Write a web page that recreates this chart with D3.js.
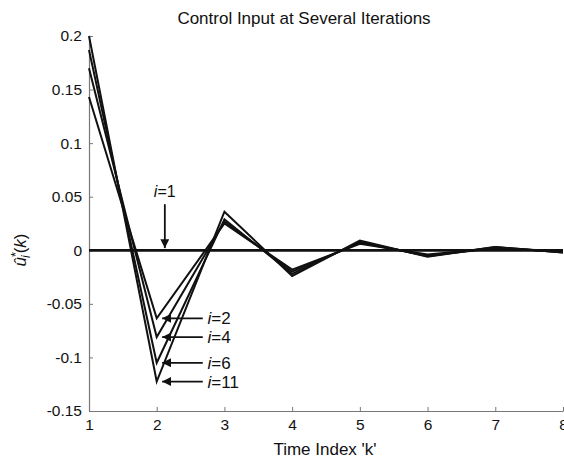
<!DOCTYPE html>
<html>
<head>
<meta charset="utf-8">
<script src="https://cdn.jsdelivr.net/npm/d3@7"></script>
<style>
body { margin: 0; background: #fff; }
svg { font-family: "Liberation Sans", Arial, sans-serif; }
</style>
</head>
<body>
<svg id="chart" width="564" height="460"></svg>
<script>
// time index k
var kValues = [1, 2, 3, 4, 5, 6, 7, 8];

// control input u_i*(k) for several iterations
var iter1  = [0, 0, 0, 0, 0, 0, 0, 0];
var iter2  = [0.143, -0.0635, 0.025, -0.018, 0.006, -0.004, 0.002, -0.001];
var iter4  = [0.170, -0.081, 0.027, -0.020, 0.007, -0.005, 0.002, -0.0015];
var iter6  = [0.187, -0.105, 0.029, -0.022, 0.008, -0.0055, 0.003, -0.002];
var iter11 = [0.200, -0.1225, 0.036, -0.024, 0.009, -0.006, 0.003, -0.002];

var iterNames = ["2", "4", "6", "11"];
var xTicks = [1, 2, 3, 4, 5, 6, 7, 8];
var yTicks = [-0.15, -0.1, -0.05, 0, 0.05, 0.1, 0.15, 0.2];

var svg = d3.select("#chart");

var x = d3.scaleLinear().domain([1, 8]).range([89, 563]);
var y = d3.scaleLinear().domain([-0.15, 0.2]).range([411, 36]);

// axes (ticks point inward)
svg.append("g")
    .attr("transform", "translate(0," + y(-0.15) + ")")
    .call(d3.axisBottom(x).tickValues(xTicks).tickSizeInner(-4).tickSizeOuter(0).tickPadding(8).tickFormat(d3.format("d")));

svg.append("g")
    .attr("transform", "translate(" + x(1) + ",0)")
    .call(d3.axisLeft(y).tickValues(yTicks).tickSizeInner(-4).tickSizeOuter(0).tickPadding(7).tickFormat(function(d){ return String(d); }));

svg.selectAll(".domain").attr("stroke", "#777").attr("stroke-width", 1.2);
svg.selectAll(".tick line").attr("stroke", "#777");
svg.selectAll(".tick text").attr("fill", "#111").style("font-size", "15.5px")
    .style("font-family", "'Liberation Sans', Arial, sans-serif");

// lines
var line = d3.line()
    .x(function(d, i){ return x(kValues[i]); })
    .y(function(d){ return y(d); });

svg.append("path")
    .datum(iter1)
    .attr("d", line)
    .attr("fill", "none")
    .attr("stroke", "#111")
    .attr("stroke-width", 2.8);

var series = [iter2, iter4, iter6, iter11];

svg.selectAll(".iter")
    .data(series)
    .enter()
    .append("path")
    .attr("class", "iter")
    .attr("d", line)
    .attr("fill", "none")
    .attr("stroke", "#111")
    .attr("stroke-width", 2)
    .attr("stroke-linejoin", "miter");

// arrow head marker
svg.append("defs").append("marker")
    .attr("id", "head")
    .attr("viewBox", "0 0 10 10")
    .attr("refX", 10).attr("refY", 5)
    .attr("markerWidth", 5).attr("markerHeight", 5)
    .attr("markerUnits", "strokeWidth")
    .attr("orient", "auto")
    .append("path")
    .attr("d", "M0,0 L10,5 L0,10 Z")
    .attr("fill", "#111");

// i=1 annotation
var ann = svg.append("g");
ann.append("line")
    .attr("x1", x(2.12)).attr("x2", x(2.12))
    .attr("y1", y(0.043)).attr("y2", y(0.002))
    .attr("stroke", "#111").attr("stroke-width", 1.8)
    .attr("marker-end", "url(#head)");

var t1 = ann.append("text")
    .attr("x", x(2.12) - 11).attr("y", y(0.05))
    .style("font-size", "16px").attr("fill", "#111");
t1.append("tspan").style("font-style", "italic").text("i");
t1.append("tspan").text("=1");

// other iteration annotations
series.forEach(function(s, n){
    var yy = y(s[1]);
    ann.append("line")
        .attr("x1", x(2.68)).attr("x2", x(2.08))
        .attr("y1", yy).attr("y2", yy)
        .attr("stroke", "#111").attr("stroke-width", 1.8)
        .attr("marker-end", "url(#head)");
    var t = ann.append("text")
        .attr("x", x(2.75)).attr("y", yy + 6)
        .style("font-size", "17px").attr("fill", "#111");
    t.append("tspan").style("font-style", "italic").text("i");
    t.append("tspan").text("=" + iterNames[n]);
});

// title and axis labels
svg.append("text")
    .attr("x", 304).attr("y", 24)
    .attr("text-anchor", "middle")
    .style("font-size", "17px")
    .attr("fill", "#111")
    .text("Control Input at Several Iterations");

svg.append("text")
    .attr("x", 325).attr("y", 455)
    .attr("text-anchor", "middle")
    .style("font-size", "17px")
    .attr("fill", "#111")
    .text("Time Index 'k'");

var yl = svg.append("text")
    .attr("transform", "translate(26,250) rotate(-90)")
    .attr("text-anchor", "middle")
    .style("font-size", "17px")
    .attr("fill", "#111");
yl.append("tspan").style("font-style", "italic").text("\u00fb");
yl.append("tspan").attr("dy", -6).style("font-size", "13px").text("*");
yl.append("tspan").attr("dx", -6).attr("dy", 10).style("font-size", "12px").style("font-style", "italic").text("i");
yl.append("tspan").attr("dy", -4).attr("dx", 2).text("(");
yl.append("tspan").style("font-style", "italic").text("k");
yl.append("tspan").text(")");
</script>
</body>
</html>
